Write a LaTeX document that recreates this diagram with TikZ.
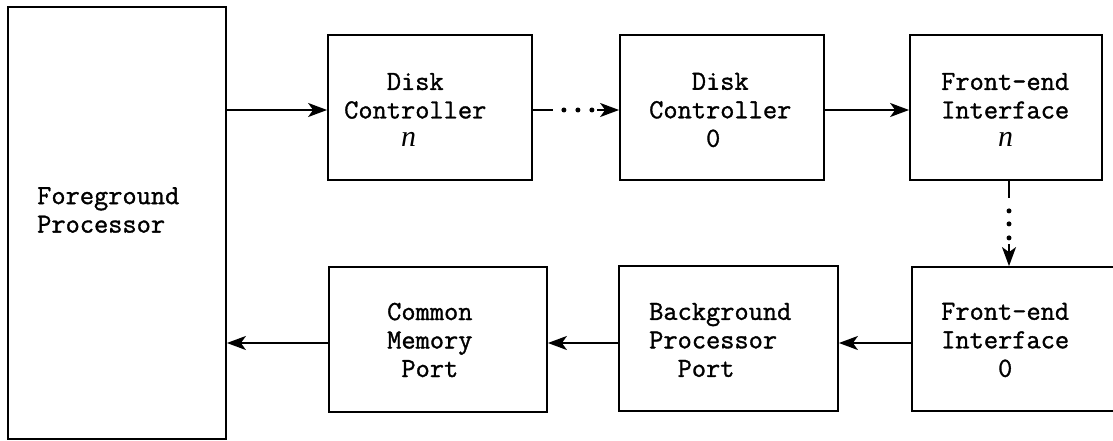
\documentclass[tikz,border=0pt]{standalone}
\usepackage{fontspec}
\usetikzlibrary{arrows.meta}
\newfontfamily\mono{Latin Modern Mono}[FakeBold=1.2]
\newfontfamily\serifit{Liberation Serif}
\newcommand{\var}[1]{{\serifit\mdseries\itshape\fontsize{30}{28.5}\selectfont #1}}
\newcommand{\ind}[1]{\hphantom{#1}}
\begin{document}
\begin{tikzpicture}[x=1pt,y=-1pt,
  box/.style={draw,line width=1.8pt,minimum width=#1,inner sep=0pt},
  box/.default=204pt,
  lbl/.style={font=\mono\bfseries\fontsize{27.6}{28.5}\selectfont,align=left,inner sep=0pt,anchor=west},
  wire/.style={line width=1.8pt},
  arrow/.style={wire,-{Stealth[length=19pt,width=14pt,inset=5pt]}},
  dot/.style={fill,circle,inner sep=0pt,minimum size=5pt}]
\useasboundingbox (0,0) rectangle (1113,441);
\clip (0,0) rectangle (1113,441);

% blocks
\node[box=218pt,minimum height=432pt] (fp)  at (117,223) {};
\node[box,minimum height=145pt]       (dcn) at (430,107.5) {};
\node[box,minimum height=145pt]       (dc0) at (722,107.5) {};
\node[box=192pt,minimum height=145pt] (fen) at (1006,107.5) {};
\node[box=218pt,minimum height=144pt] (fe0) at (1021,339) {};
\node[box=219pt,minimum height=145pt] (bpp) at (728.5,338.5) {};
\node[box=218pt,minimum height=145pt] (cmp) at (438,339.5) {};

% labels
\node[lbl] (fpt)  at (37,210)  {Foreground\\Processor};
\node[lbl] (dcnt) at (344,110) {\ind{000}Disk\\Controller\\\ind{0000}\var{n}};
\node[lbl] (dc0t) at (649,110) {\ind{000}Disk\\Controller\\\ind{0000}0};
\node[lbl] (fent) at (941,110) {Front-end\\Interface\\\ind{0000}\var{n}};
\node[lbl] (fe0t) at (941,340) {Front-end\\Interface\\\ind{0000}0};
\node[lbl] (bppt) at (649,340) {Background\\Processor\\\ind{00}Port};
\node[lbl] (cmpt) at (387,340) {Common\\Memory\\\ind{0}Port};

% connector levels
\coordinate (top)  at ([yshift=-2.5pt]dcn.west);
\coordinate (bot)  at ([yshift=-3.5pt]cmp.west);
\coordinate (down) at ([xshift=3pt]fen.south);

% top row
\draw[arrow] (fp.east |- top) -- (dcn.west |- top);
\draw[wire] (dcn.east |- top) -- ++(20,0);
\node[dot] (h1) at ([xshift=31pt]dcn.east |- top) {};
\node[dot] (h2) at ([xshift=45pt]dcn.east |- top) {};
\node[dot] (h3) at ([xshift=59pt]dcn.east |- top) {};
\draw[arrow] ([xshift=-22pt]dc0.west |- top) -- (dc0.west |- top);
\draw[arrow] (dc0.east |- top) -- (fen.west |- top);

% right column
\draw[wire] (down) -- ++(0,17);
\node[dot] (v1) at ([yshift=-30pt]down) {};
\node[dot] (v2) at ([yshift=-43pt]down) {};
\node[dot] (v3) at ([yshift=-57pt]down) {};
\draw[arrow] (down |- fe0.north) ++(0,-22) -- (down |- fe0.north);

% bottom row
\draw[arrow] (fe0.west |- bot) -- (bpp.east |- bot);
\draw[arrow] (bpp.west |- bot) -- (cmp.east |- bot);
\draw[arrow] (cmp.west |- bot) -- (fp.east |- bot);
\end{tikzpicture}
\end{document}
